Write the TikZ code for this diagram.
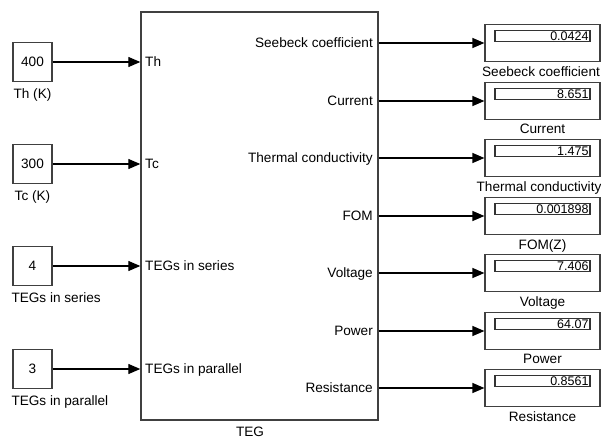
\documentclass[tikz,border=0pt]{standalone}
\usepackage{fontspec}
\setmainfont{Liberation Sans}
\usepackage{tikz}
\usetikzlibrary{positioning,arrows.meta}

\begin{document}
\begin{tikzpicture}[x=1pt, y=-1pt,
    every node/.style={font=\fontsize{13.6}{15}\selectfont, text=black},
    blk/.style={draw=black!75, line width=1.4pt, fill=white, inner sep=0pt},
    const/.style={blk, minimum width=39pt, minimum height=39pt},
    tegblk/.style={blk, minimum width=237pt, minimum height=408pt},
    disp/.style={draw=black!75, line width=1.2pt, minimum width=115pt,
                 minimum height=37pt, inner sep=0pt},
    field/.style={draw=black!80, line width=1.1pt, minimum width=95pt,
                  minimum height=11pt, text width=92pt, align=right,
                  inner sep=0pt, font=\fontsize{12.5}{12}\selectfont},
    lbl/.style={inner sep=0pt},
    port/.style={inner sep=0pt, text height=9.6pt, text depth=0pt},
    arr/.style={-{Triangle[length=12pt,width=10pt]}, line width=1.3pt}]
  \useasboundingbox (0,0) rectangle (601,439);
  % subsystem
  \node[tegblk] (teg) at (259.5,216) {};
  \node[lbl, below=6pt of teg.south, xshift=-9.5pt] (tegname) {TEG};
  % source blocks
  \node[const] (th)  at (32.5,62)  {400};
  \node[const] (tc)  at (32.5,164) {300};
  \node[const] (ns)  at (32.5,266) {4};
  \node[const] (np)  at (32.5,369) {3};
  \node[lbl, below=6pt of th] (thname) {Th (K)};
  \node[lbl, below=6pt of tc] (tcname) {Tc (K)};
  \node[lbl, below=6pt of ns.south west, anchor=north west, xshift=-1pt] (nsname) {TEGs in series};
  \node[lbl, below=6pt of np.south west, anchor=north west, xshift=-1pt] (npname) {TEGs in parallel};
  % input ports
  \node[port, anchor=west] (pth) at (145,62)  {Th};
  \node[port, anchor=west] (ptc) at (145,164) {Tc};
  \node[port, anchor=west] (pns) at (145,266) {TEGs in series};
  \node[port, anchor=west] (pnp) at (145,369) {TEGs in parallel};
  \draw[arr] (th.east) -- (th -| teg.west);
  \draw[arr] (tc.east) -- (tc -| teg.west);
  \draw[arr] (ns.east) -- (ns -| teg.west);
  \draw[arr] (np.east) -- (np -| teg.west);
  % output ports
  \node[port, anchor=east] (ps) at (373,43)  {Seebeck coefficient};
  \node[port, anchor=east] (pi) at (373,101) {Current};
  \node[port, anchor=east] (pk) at (373,158) {Thermal conductivity};
  \node[port, anchor=east] (pz) at (373,216) {FOM};
  \node[port, anchor=east] (pv) at (373,273) {Voltage};
  \node[port, anchor=east] (pp) at (373,331) {Power};
  \node[port, anchor=east] (pr) at (373,388) {Resistance};
  % display blocks
  \node[disp] (ds) at (542.5,43)  {};
  \node[disp] (di) at (542.5,101) {};
  \node[disp] (dk) at (542.5,158) {};
  \node[disp] (dz) at (542.5,216) {};
  \node[disp] (dv) at (542.5,273) {};
  \node[disp] (dp) at (542.5,331) {};
  \node[disp] (dr) at (542.5,388) {};
  \node[field, below=6pt of ds.north] (fs) {0.0424};
  \node[field, below=6pt of di.north] (fi) {8.651};
  \node[field, below=6pt of dk.north] (fk) {1.475};
  \node[field, below=6pt of dz.north] (fz) {0.001898};
  \node[field, below=6pt of dv.north] (fv) {7.406};
  \node[field, below=6pt of dp.north] (fp) {64.07};
  \node[field, below=6pt of dr.north] (fr) {0.8561};
  \node[lbl, below=4pt of ds, xshift=-1.5pt] (sname) {Seebeck coefficient};
  \node[lbl, below=4pt of di] (iname) {Current};
  \node[lbl, below=4pt of dk, xshift=-3.5pt] (kname) {Thermal conductivity};
  \node[lbl, below=4pt of dz] (zname) {FOM(Z)};
  \node[lbl, below=4pt of dv] (vname) {Voltage};
  \node[lbl, below=4pt of dp] (pname) {Power};
  \node[lbl, below=4pt of dr] (rname) {Resistance};
  \draw[arr] (ds -| teg.east) -- (ds.west);
  \draw[arr] (di -| teg.east) -- (di.west);
  \draw[arr] (dk -| teg.east) -- (dk.west);
  \draw[arr] (dz -| teg.east) -- (dz.west);
  \draw[arr] (dv -| teg.east) -- (dv.west);
  \draw[arr] (dp -| teg.east) -- (dp.west);
  \draw[arr] (dr -| teg.east) -- (dr.west);
\end{tikzpicture}
\end{document}
